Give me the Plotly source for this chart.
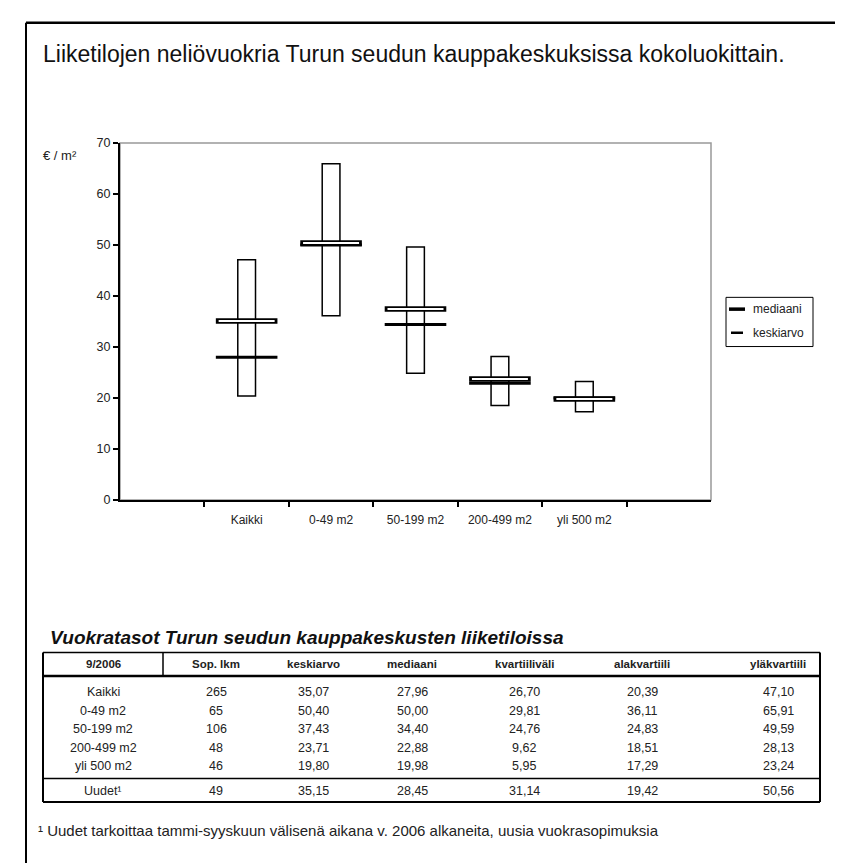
import plotly.graph_objects as go

W, H = 843, 863

# ---------------- data ----------------
categories = ["Kaikki", "0-49 m2", "50-199 m2", "200-499 m2", "yli 500 m2"]
mean_vals = [35.07, 50.40, 37.43, 23.71, 19.80]
median_vals = [27.96, 50.00, 34.40, 22.88, 19.98]
lower_q = [20.39, 36.11, 24.83, 18.51, 17.29]
upper_q = [47.10, 65.91, 49.59, 28.13, 23.24]
y_ticks = [0, 10, 20, 30, 40, 50, 60, 70]

table_header = ["9/2006", "Sop. lkm", "keskiarvo", "mediaani", "kvartiiliväli", "alakvartiili", "yläkvartiili"]
table_rows = [
    ["Kaikki", "265", "35,07", "27,96", "26,70", "20,39", "47,10"],
    ["0-49 m2", "65", "50,40", "50,00", "29,81", "36,11", "65,91"],
    ["50-199 m2", "106", "37,43", "34,40", "24,76", "24,83", "49,59"],
    ["200-499 m2", "48", "23,71", "22,88", "9,62", "18,51", "28,13"],
    ["yli 500 m2", "46", "19,80", "19,98", "5,95", "17,29", "23,24"],
]
table_last = ["Uudet¹", "49", "35,15", "28,45", "31,14", "19,42", "50,56"]

title_text = "Liiketilojen neliövuokria Turun seudun kauppakeskuksissa kokoluokittain."
table_title = "Vuokratasot Turun seudun kauppakeskusten liiketiloissa"
footnote = "¹ Uudet tarkoittaa tammi-syyskuun välisenä aikana v. 2006 alkaneita, uusia vuokrasopimuksia"
y_label = "€ / m²"
legend_labels = ["mediaani", "keskiarvo"]

# ---------------- helpers ----------------
def px(x):
    return x / W

def py(y):
    return 1 - y / H

FONT = "Liberation Sans, Arial, sans-serif"
TXT = "#222"

fig = go.Figure()

# boxes (lower to upper quartile)
fig.add_trace(go.Bar(
    x=categories,
    y=[u - l for u, l in zip(upper_q, lower_q)],
    base=lower_q,
    width=0.21,
    marker=dict(color="white", line=dict(color="black", width=1.5)),
    showlegend=False, hoverinfo="skip",
))
# median: solid line
fig.add_trace(go.Scatter(
    x=categories, y=median_vals, mode="markers",
    marker=dict(symbol="line-ew", size=44, line=dict(color="black", width=3)),
    showlegend=False, hoverinfo="skip",
))
# mean: hollow bar (black outer, white inner)
fig.add_trace(go.Scatter(
    x=categories, y=mean_vals, mode="markers",
    marker=dict(symbol="line-ew", size=44, line=dict(color="black", width=5.5)),
    showlegend=False, hoverinfo="skip",
))
fig.add_trace(go.Scatter(
    x=categories, y=mean_vals, mode="markers",
    marker=dict(symbol="line-ew", size=40, line=dict(color="white", width=2)),
    showlegend=False, hoverinfo="skip",
))

x0, x1, yt, yb = 112, 703, 130, 493

shapes = []
annotations = []

# page border
shapes.append(dict(type="line", xref="paper", yref="paper", x0=px(18), x1=px(18), y0=py(8), y1=py(863),
                   line=dict(color="black", width=2)))
shapes.append(dict(type="line", xref="paper", yref="paper", x0=px(18), x1=px(843), y0=py(8), y1=py(8),
                   line=dict(color="black", width=2.5)))
# plot area gray frame
shapes.append(dict(type="rect", xref="paper", yref="paper", x0=px(x0), x1=px(x1), y0=py(yb), y1=py(yt),
                   line=dict(color="#999", width=1.5), layer="below"))

# manual legend
shapes.append(dict(type="rect", xref="paper", yref="paper", x0=px(718), x1=px(805), y0=py(337), y1=py(287),
                   line=dict(color="black", width=1), fillcolor="white"))
shapes.append(dict(type="line", xref="paper", yref="paper", x0=px(721), x1=px(737), y0=py(299), y1=py(299),
                   line=dict(color="black", width=3.5)))
shapes.append(dict(type="line", xref="paper", yref="paper", x0=px(723), x1=px(735), y0=py(323), y1=py(323),
                   line=dict(color="black", width=2.5)))
for lab, yy in zip(legend_labels, [299, 323]):
    annotations.append(dict(text=lab, xref="paper", yref="paper", x=px(743), y=py(yy), xanchor="left",
                            yanchor="middle", showarrow=False, font=dict(size=12, color=TXT, family=FONT)))

# title
annotations.append(dict(text=title_text, xref="paper", yref="paper", x=px(33), y=py(40), xanchor="left",
                        yanchor="middle", showarrow=False, font=dict(size=23, color="#111", family=FONT)))
# y label
annotations.append(dict(text=y_label, xref="paper", yref="paper", x=px(52), y=py(143), xanchor="center",
                        yanchor="middle", showarrow=False, font=dict(size=13, color=TXT, family=FONT)))

# table
annotations.append(dict(text="<b><i>" + table_title + "</i></b>", xref="paper", yref="paper", x=px(40), y=py(633),
                        xanchor="left", yanchor="middle", showarrow=False,
                        font=dict(size=19, color="#111", family=FONT)))
col_x = [95, 208, 305, 404, 516, 634, 770]
tl, tr = 35, 812
t_top, t_head, t_sep, t_bot = 648, 672, 776, 800
for yy, w in [(t_top, 1.5), (t_head, 2.5), (t_sep, 1.5), (t_bot, 2)]:
    shapes.append(dict(type="line", xref="paper", yref="paper", x0=px(tl), x1=px(tr), y0=py(yy), y1=py(yy),
                       line=dict(color="black", width=w)))
for xx in [tl, tr]:
    shapes.append(dict(type="line", xref="paper", yref="paper", x0=px(xx), x1=px(xx), y0=py(t_top), y1=py(t_bot),
                       line=dict(color="black", width=2)))
shapes.append(dict(type="line", xref="paper", yref="paper", x0=px(155), x1=px(155), y0=py(t_top), y1=py(t_head),
                   line=dict(color="black", width=1.5)))

for cx, txt in zip(col_x, table_header):
    annotations.append(dict(text="<b>" + txt + "</b>", xref="paper", yref="paper", x=px(cx), y=py(660),
                            xanchor="center", yanchor="middle", showarrow=False,
                            font=dict(size=11.5, color=TXT, family=FONT)))
row_y = [688, 707, 726, 745, 763]
for ry, row in zip(row_y, table_rows):
    for cx, txt in zip(col_x, row):
        annotations.append(dict(text=txt, xref="paper", yref="paper", x=px(cx), y=py(ry),
                                xanchor="center", yanchor="middle", showarrow=False,
                                font=dict(size=12.5, color=TXT, family=FONT)))
for cx, txt in zip(col_x, table_last):
    annotations.append(dict(text=txt, xref="paper", yref="paper", x=px(cx), y=py(789),
                            xanchor="center", yanchor="middle", showarrow=False,
                            font=dict(size=12.5, color=TXT, family=FONT)))
annotations.append(dict(text=footnote, xref="paper", yref="paper", x=px(28), y=py(829),
                        xanchor="left", yanchor="middle", showarrow=False,
                        font=dict(size=15, color=TXT, family=FONT)))

fig.update_layout(
    width=W, height=H,
    margin=dict(l=0, r=0, t=0, b=0),
    paper_bgcolor="white", plot_bgcolor="white",
    barmode="overlay",
    showlegend=False,
    font=dict(family=FONT, color=TXT),
    shapes=shapes,
    annotations=annotations,
    xaxis=dict(
        domain=[px(x0), px(x1)],
        type="category", categoryorder="array", categoryarray=categories,
        range=[-1.5, 5.5],
        tickson="boundaries", ticks="outside", ticklen=5, tickwidth=1.5, tickcolor="black",
        ticklabelstandoff=8,
        showline=True, linecolor="black", linewidth=2,
        showgrid=False, zeroline=False,
        tickfont=dict(size=12, color=TXT, family=FONT),
        fixedrange=True,
    ),
    yaxis=dict(
        domain=[py(yb), py(yt)],
        range=[0, 70], tickvals=y_ticks,
        ticks="outside", ticklen=5, tickwidth=1.5, tickcolor="black",
        showline=True, linecolor="black", linewidth=2,
        showgrid=False, zeroline=False,
        tickfont=dict(size=12.5, color=TXT, family=FONT),
        fixedrange=True,
    ),
)

fig.write_html("out.html")
